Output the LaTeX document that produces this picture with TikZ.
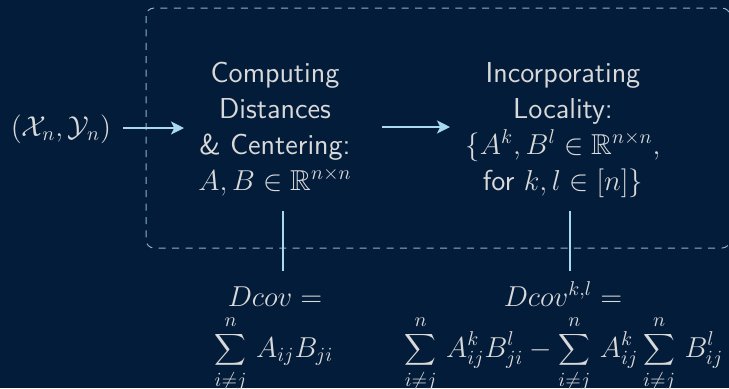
\documentclass[tikz,border=0pt]{standalone}
\usepackage{amssymb}
\usetikzlibrary{arrows.meta}
\definecolor{bg}{HTML}{021C3A}
\definecolor{txt}{HTML}{D9D9D9}
\definecolor{arr}{HTML}{A8D8F2}
\definecolor{dashc}{HTML}{8DB3D2}
\newcommand\stack[1]{\begin{tabular}[t]{@{}c@{}}#1\end{tabular}}
\newcommand\bsum{\mathop{\vcenter{\hbox{\fontsize{11}{13}\selectfont$\displaystyle\sum$}}}\limits}
\begin{document}
\begin{tikzpicture}[x=0.5pt,y=-0.5pt,
  every node/.style={text=txt,font=\Large\sffamily,inner sep=0pt},
  flow/.style={draw=arr,line width=1.3pt,-{Stealth[length=6.5pt,width=6.5pt,inset=1.6pt]}},
  link/.style={draw=arr,line width=1.1pt},
  group/.style={draw=dashc,line width=0.5pt,dash pattern=on 3.5pt off 3.2pt,rounded corners=4pt}]
\fill[bg] (0,0) rectangle (729,388);
\useasboundingbox (0,0) rectangle (729,388);
\draw[group] (146,8) rectangle (730,248);
\node (inp) at (61,129) {$(\mathcal{X}_n,\mathcal{Y}_n)$};
\node[anchor=base] (comp) at (275,82) {\stack{Computing\\Distances\\\& Centering:\\$A,B\in\mathbb{R}^{n\times n}$}};
\node[anchor=base] (loc) at (563,82) {\stack{Incorporating\\Locality:\\$\{A^k,B^l\in\mathbb{R}^{n\times n},$\\for $k,l\in[n]\}$}};
\coordinate (a1s) at (123,128);
\coordinate (a1e) at (184,128);
\coordinate (a2s) at (382,127);
\coordinate (a2e) at (450,127);
\draw[flow] (a1s) -- (a1e);
\draw[flow] (a2s) -- (a2e);
\node[anchor=base] (d1) at (275,306) {$Dcov =$};
\node[anchor=base] (s1) at (274,357) {$\displaystyle\bsum_{i\neq j}^{n}\, A_{ij}B_{ji}$};
\node[anchor=base] (d2) at (563,306) {$Dcov^{k,l} =$};
\node[anchor=base] (s2) at (564,357) {$\displaystyle\bsum_{i\neq j}^{n}\, A^k_{ij}B^l_{ji} - \bsum_{i\neq j}^{n}\, A^k_{ij}\bsum_{i\neq j}^{n}\, B^l_{ij}$};
\coordinate (v1a) at (283,211);
\coordinate (v1b) at (283,271);
\coordinate (v2a) at (570,211);
\coordinate (v2b) at (570,271);
\draw[link] (v1a) -- (v1b);
\draw[link] (v2a) -- (v2b);
\end{tikzpicture}
\end{document}
